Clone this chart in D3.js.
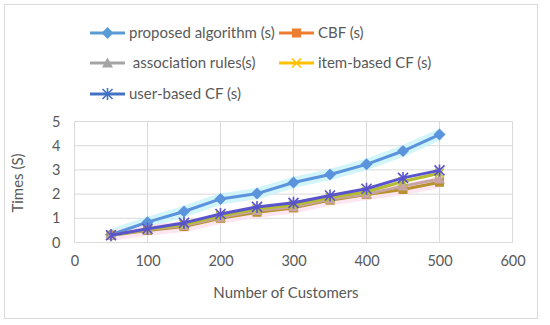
<!DOCTYPE html>
<html><head><meta charset="utf-8">
<script src="https://cdn.jsdelivr.net/npm/d3@7"></script>
<style>body{margin:0;background:#fff}svg{display:block}text{font-family:Lato,"Open Sans",sans-serif}</style>
</head><body><svg id="c" width="550" height="325"></svg>
<script>
const customers = [50,100,150,200,250,300,350,400,450,500];
const proposed = [0.32,0.84,1.28,1.80,2.02,2.48,2.81,3.23,3.78,4.46];
const cbf = [0.30,0.50,0.66,1.00,1.25,1.43,1.75,1.98,2.19,2.49];
const association = [0.30,0.53,0.70,1.04,1.32,1.48,1.80,2.00,2.33,2.62];
const itemCF = [0.30,0.55,0.74,1.10,1.38,1.55,1.86,2.10,2.52,2.86];
const userCF = [0.30,0.57,0.81,1.18,1.47,1.64,1.94,2.22,2.67,2.98];
const seriesNames = ["proposed algorithm (s)","CBF (s)"," association rules(s)","item-based CF (s)","user-based CF (s)"];
const xTicks = [0,100,200,300,400,500,600];
const yTicks = [0,1,2,3,4,5];

const seriesValues = [proposed, cbf, association, itemCF, userCF];
const lineColors = ["#5b93dc","#b8902c","#c8a4a4","#b4bd2e","#5954cc"];
const legendColors = ["#5b9bd5","#ed7d31","#a5a5a5","#ffc000","#4472c4"];
const markers = ["diamond","square","triangle","x","star"];

const svg = d3.select("#c");
svg.append("rect").attr("x",4.5).attr("y",4.5).attr("width",533).attr("height",314)
  .attr("fill","#fff").attr("stroke","#d9d9d9");

const x = d3.scaleLinear().domain([0,600]).range([74.5,512.5]);
const y = d3.scaleLinear().domain([0,5]).range([242.5,121.5]);

svg.append("g").selectAll("line").data(yTicks).join("line")
  .attr("x1",x(0)).attr("x2",x(600)).attr("y1",d=>y(d)).attr("y2",d=>y(d))
  .attr("stroke","#d9d9d9").attr("stroke-width",1);
svg.append("g").selectAll("line").data(xTicks).join("line")
  .attr("y1",y(0)).attr("y2",y(5)).attr("x1",d=>x(d)).attr("x2",d=>x(d))
  .attr("stroke","#d9d9d9").attr("stroke-width",1);

const xa = svg.append("g").attr("transform",`translate(0,${y(0)})`)
  .call(d3.axisBottom(x).tickValues(xTicks).tickSize(0).tickPadding(13));
xa.select(".domain").remove();
xa.selectAll("text").attr("font-size",14.5).attr("fill","#595959").style("font-family","Lato,sans-serif");
const ya = svg.append("g").attr("transform",`translate(${x(0)},0)`)
  .call(d3.axisLeft(y).tickValues(yTicks).tickFormat(d3.format("d")).tickSize(0).tickPadding(14));
ya.select(".domain").remove();
ya.selectAll("text").attr("font-size",14.5).attr("fill","#595959").style("font-family","Lato,sans-serif");

svg.append("text").attr("x",286).attr("y",298).attr("text-anchor","middle")
  .attr("font-size",15).attr("fill","#595959").text("Number of Customers");
svg.append("text").attr("transform","translate(23,183) rotate(-90)").attr("text-anchor","middle")
  .attr("font-size",15).attr("fill","#595959").text("Times (S)");

const line = d3.line().x((d,i)=>x(customers[i])).y(d=>y(d));

svg.append("path").datum(proposed).attr("d",line).attr("fill","none")
  .attr("stroke","#c6f3f7").attr("stroke-width",11).attr("stroke-linejoin","round").attr("opacity",0.8);
svg.append("path").datum(cbf).attr("d",line).attr("fill","none")
  .attr("stroke","#fbe0ef").attr("stroke-width",11).attr("stroke-linejoin","round").attr("opacity",0.8);

function drawMarker(g, type, color){
  if(type==="diamond"){
    g.append("path").attr("d","M0,-6L6,0L0,6L-6,0Z").attr("fill",color);
  } else if(type==="square"){
    g.append("rect").attr("x",-4.5).attr("y",-4.5).attr("width",9).attr("height",9).attr("fill",color);
  } else if(type==="triangle"){
    g.append("path").attr("d","M0,-5.5L5.5,4.5L-5.5,4.5Z").attr("fill",color);
  } else if(type==="x"){
    g.append("path").attr("d","M-4.5,-4.5L4.5,4.5M4.5,-4.5L-4.5,4.5").attr("stroke",color).attr("stroke-width",1.6);
  } else {
    g.append("path").attr("d","M-5,-5L5,5M5,-5L-5,5M0,-6L0,6").attr("stroke",color).attr("stroke-width",1.6);
  }
}

[0,1,2,3,4].forEach(si=>{
  const vals = seriesValues[si];
  const g = svg.append("g");
  g.append("path").datum(vals).attr("d",line).attr("fill","none")
    .attr("stroke",lineColors[si]).attr("stroke-width",3).attr("stroke-linejoin","round");
  vals.forEach((v,i)=>{
    const mg = g.append("g").attr("transform",`translate(${x(customers[i])},${y(v)})`);
    drawMarker(mg, markers[si], lineColors[si]);
  });
});

const legendPos = [[90,33],[279,33],[90,63],[279,63],[90,94]];
seriesNames.forEach((name,i)=>{
  const [lx,ly] = legendPos[i];
  const g = svg.append("g");
  g.append("line").attr("x1",lx).attr("x2",lx+35).attr("y1",ly).attr("y2",ly)
    .attr("stroke",legendColors[i]).attr("stroke-width",3);
  const mg = g.append("g").attr("transform",`translate(${lx+17.5},${ly})`);
  drawMarker(mg, markers[i], legendColors[i]);
  g.append("text").attr("x",lx+39).attr("y",ly).attr("dy","0.35em")
    .attr("font-size",15).attr("fill","#595959").style("white-space","pre").text(name);
});
</script></body></html>
